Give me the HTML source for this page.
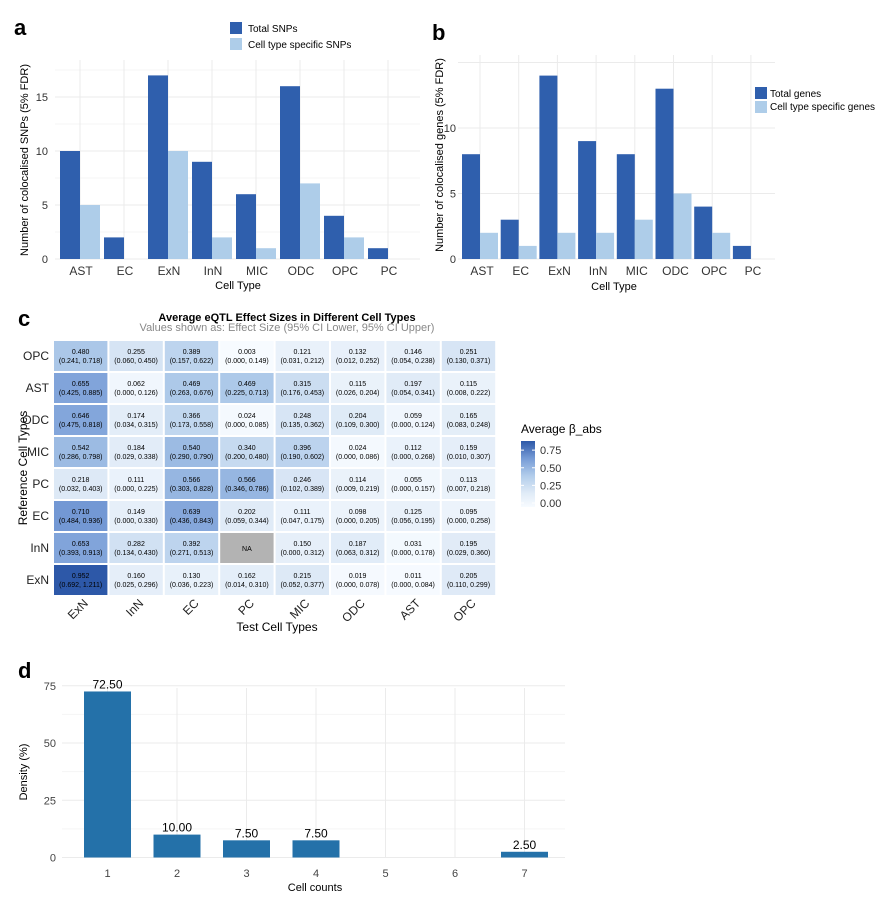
<!DOCTYPE html>
<html><head><meta charset="utf-8">
<style>
body{margin:0;background:#fff;font-family:"Liberation Sans",Arial,sans-serif;}
svg text{font-family:"Liberation Sans",Arial,sans-serif;}
</style></head>
<body>
<svg id="s" width="880" height="903" viewBox="0 0 880 903" xmlns="http://www.w3.org/2000/svg"></svg>
<script>
// Panel a data
const aCats=["AST","EC","ExN","InN","MIC","ODC","OPC","PC"];
const aTotal=[10,2,17,9,6,16,4,1];
const aSpecific=[5,0,10,2,1,7,2,0];
const aTicks=[0,5,10,15];
// Panel b data
const bCats=["AST","EC","ExN","InN","MIC","ODC","OPC","PC"];
const bTotal=[8,3,14,9,8,13,4,1];
const bSpecific=[2,1,2,2,3,5,2,0];
const bTicks=[0,5,10];
// Panel c data
const cRows=["OPC","AST","ODC","MIC","PC","EC","InN","ExN"];
const cCols=["ExN","InN","EC","PC","MIC","ODC","AST","OPC"];
const cVals=[
[0.480,0.255,0.389,0.003,0.121,0.132,0.146,0.251],
[0.655,0.062,0.469,0.469,0.315,0.115,0.197,0.115],
[0.646,0.174,0.366,0.024,0.248,0.204,0.059,0.165],
[0.542,0.184,0.540,0.340,0.396,0.024,0.112,0.159],
[0.218,0.111,0.566,0.566,0.246,0.114,0.055,0.113],
[0.710,0.149,0.639,0.202,0.111,0.098,0.125,0.095],
[0.653,0.282,0.392,null,0.150,0.187,0.031,0.195],
[0.952,0.160,0.130,0.162,0.215,0.019,0.011,0.205]];
const cCI=[
["(0.241, 0.718)","(0.060, 0.450)","(0.157, 0.622)","(0.000, 0.149)","(0.031, 0.212)","(0.012, 0.252)","(0.054, 0.238)","(0.130, 0.371)"],
["(0.425, 0.885)","(0.000, 0.126)","(0.263, 0.676)","(0.225, 0.713)","(0.176, 0.453)","(0.026, 0.204)","(0.054, 0.341)","(0.008, 0.222)"],
["(0.475, 0.818)","(0.034, 0.315)","(0.173, 0.558)","(0.000, 0.085)","(0.135, 0.362)","(0.109, 0.300)","(0.000, 0.124)","(0.083, 0.248)"],
["(0.286, 0.798)","(0.029, 0.338)","(0.290, 0.790)","(0.200, 0.480)","(0.190, 0.602)","(0.000, 0.086)","(0.000, 0.268)","(0.010, 0.307)"],
["(0.032, 0.403)","(0.000, 0.225)","(0.303, 0.828)","(0.346, 0.786)","(0.102, 0.389)","(0.009, 0.219)","(0.000, 0.157)","(0.007, 0.218)"],
["(0.484, 0.936)","(0.000, 0.330)","(0.436, 0.843)","(0.059, 0.344)","(0.047, 0.175)","(0.000, 0.205)","(0.056, 0.195)","(0.000, 0.258)"],
["(0.393, 0.913)","(0.134, 0.430)","(0.271, 0.513)","","(0.000, 0.312)","(0.063, 0.312)","(0.000, 0.178)","(0.029, 0.360)"],
["(0.692, 1.211)","(0.025, 0.296)","(0.036, 0.223)","(0.014, 0.310)","(0.052, 0.377)","(0.000, 0.078)","(0.000, 0.084)","(0.110, 0.299)"]];
const cLegendTicks=[0,0.25,0.5,0.75];
// Panel d data
const dCats=["1","2","3","4","5","6","7"];
const dVals=[72.5,10,7.5,7.5,0,0,2.5];
const dTicks=[0,25,50,75];

const S=document.getElementById('s');
const NS="http://www.w3.org/2000/svg";
function mk(tag,attrs,txt){const e=document.createElementNS(NS,tag);for(const k in attrs)e.setAttribute(k,attrs[k]);if(txt!==undefined)e.textContent=txt;S.appendChild(e);return e;}

const DARK="#2f5fad",LIGHT="#aecde9";
let e;
// ---------- Panel a ----------
e=mk('text',{x:14,y:35,'font-size':22,'font-weight':'bold'},'a');


const aY=v=>259-v*10.8, aX=i=>60+i*44;
for(const t of aTicks){e=mk('line',{x1:55,x2:420,y1:aY(t),y2:aY(t),stroke:'#ebebeb'});


e=mk('text',{x:48,y:aY(t)+4,'font-size':11,'text-anchor':'end',fill:'#333'},t);

}
for(let t=2.5;t<19;t+=5){mk('line',{x1:55,x2:420,y1:aY(t),y2:aY(t),stroke:'#f4f4f4'});}
aCats.forEach((c,i)=>{
 mk('line',{x1:aX(i)+20,x2:aX(i)+20,y1:60,y2:259,stroke:'#ebebeb'});
 e=mk('rect',{x:aX(i),y:aY(aTotal[i]),width:20,height:aTotal[i]*10.8,fill:DARK});
 
 
 e=mk('rect',{x:aX(i)+20,y:aY(aSpecific[i]),width:20,height:aSpecific[i]*10.8,fill:LIGHT});
 
 
 e=mk('text',{x:aX(i)+21,y:275,'font-size':12,'text-anchor':'middle',fill:'#333'},c);
 
 
});
e=mk('text',{x:238,y:289,'font-size':11,'text-anchor':'middle'},'Cell Type');


e=mk('text',{x:0,y:0,'font-size':11,'text-anchor':'middle',transform:'translate(28,160) rotate(-90)'},'Number of colocalised SNPs (5% FDR)');


e=mk('rect',{x:230,y:22,width:12,height:12,fill:DARK});


e=mk('text',{x:248,y:32,'font-size':10},'Total SNPs');


e=mk('rect',{x:230,y:38,width:12,height:12,fill:LIGHT});


e=mk('text',{x:248,y:48,'font-size':10},'Cell type specific SNPs');



// ---------- Panel b ----------
e=mk('text',{x:432,y:40,'font-size':22,'font-weight':'bold'},'b');


const bY=v=>259-v*13.1, bX=i=>462+i*38.7;
for(const t of [0,5,10,15]){mk('line',{x1:458,x2:775,y1:bY(t),y2:bY(t),stroke:'#ebebeb'});}
for(const t of bTicks){e=mk('text',{x:456,y:bY(t)+4,'font-size':11,'text-anchor':'end',fill:'#333'},t);

}
bCats.forEach((c,i)=>{
 mk('line',{x1:bX(i)+18,x2:bX(i)+18,y1:55,y2:259,stroke:'#ebebeb'});
 e=mk('rect',{x:bX(i),y:bY(bTotal[i]),width:18,height:bTotal[i]*13.1,fill:DARK});
 
 
 e=mk('rect',{x:bX(i)+18,y:bY(bSpecific[i]),width:18,height:bSpecific[i]*13.1,fill:LIGHT});
 
 
 e=mk('text',{x:bX(i)+20,y:275,'font-size':12,'text-anchor':'middle',fill:'#333'},c);
 
 
});
e=mk('text',{x:614,y:290,'font-size':11,'text-anchor':'middle'},'Cell Type');


e=mk('text',{x:0,y:0,'font-size':11,'text-anchor':'middle',transform:'translate(443,155) rotate(-90)'},'Number of colocalised genes (5% FDR)');


e=mk('rect',{x:755,y:87,width:12,height:12,fill:DARK});


e=mk('text',{x:770,y:97,'font-size':10},'Total genes');


e=mk('rect',{x:755,y:101,width:12,height:12,fill:LIGHT});


e=mk('text',{x:770,y:110,'font-size':10},'Cell type specific genes');



// ---------- Panel c ----------
e=mk('text',{x:18,y:326,'font-size':22,'font-weight':'bold'},'c');


e=mk('text',{x:287,y:321,'font-size':11,'font-weight':'bold','text-anchor':'middle'},'Average eQTL Effect Sizes in Different Cell Types');


e=mk('text',{x:287,y:331,'font-size':11,'text-anchor':'middle',fill:'#888'},'Values shown as: Effect Size (95% CI Lower, 95% CI Upper)');


const STOPS=[[0,[247,251,255]],[0.2,[224,235,247]],[0.45,[178,205,235]],[0.7,[118,155,214]],[0.95,[45,88,168]]];
function col(v){v=Math.max(0,Math.min(v,0.95));
 for(let k=1;k<STOPS.length;k++){if(v<=STOPS[k][0]){const [p0,c0]=STOPS[k-1],[p1,c1]=STOPS[k];const t=(v-p0)/(p1-p0);
 return 'rgb('+c0.map((x,j)=>Math.round(x+(c1[j]-x)*t)).join(',')+')';}}
 return 'rgb(45,88,168)';}
const cX0=53,cW=55.4,cY0=340,cH=32;
cRows.forEach((r,ri)=>{
 e=mk('text',{x:cX0-4,y:cY0+ri*cH+20,'font-size':12,'text-anchor':'end',fill:'#222'},r);
 
 
 cCols.forEach((c,ci)=>{
  const v=cVals[ri][ci],x=cX0+ci*cW,y=cY0+ri*cH;
  e=mk('rect',{x:x+1,y:y+1,width:cW-2,height:cH-2,fill:v===null?'#b3b3b3':col(v)});
  
  
  if(v===null){e=mk('text',{x:x+cW/2,y:y+19,'font-size':7,'text-anchor':'middle'},'NA');}
  else{e=mk('text',{x:x+cW/2,y:y+14,'font-size':7,'text-anchor':'middle'},v.toFixed(3));
  
  
  e=mk('text',{x:x+cW/2,y:y+23,'font-size':7,'text-anchor':'middle'},cCI[ri][ci]);}
  
  
 });
});
cCols.forEach((c,ci)=>{
 const x=cX0+ci*cW+cW/2+8;
 e=mk('text',{x:0,y:0,'font-size':12,'text-anchor':'end',fill:'#222',transform:'translate('+x+',604) rotate(-45)'},c);
 
 
});
e=mk('text',{x:277,y:631,'font-size':12,'text-anchor':'middle'},'Test Cell Types');


e=mk('text',{x:0,y:0,'font-size':12,'text-anchor':'middle',transform:'translate(27,468) rotate(-90)'},'Reference Cell Types');


e=mk('text',{x:521,y:433,'font-size':12},'Average β_abs');


const defs=mk('defs',{});
const g=document.createElementNS(NS,'linearGradient');g.setAttribute('id','cg');g.setAttribute('x1',0);g.setAttribute('y1',1);g.setAttribute('x2',0);g.setAttribute('y2',0);
STOPS.forEach(([o,c])=>{const st=document.createElementNS(NS,'stop');st.setAttribute('offset',o/0.95);st.setAttribute('stop-color','rgb('+c.join(',')+')');g.appendChild(st);});
defs.appendChild(g);
e=mk('rect',{x:521,y:441,width:14,height:66,fill:'url(#cg)'});


const lY=v=>503-v*70.5;
cLegendTicks.forEach(t=>{
 e=mk('text',{x:540,y:lY(t)+4,'font-size':11,fill:'#333'},t.toFixed(2));
 
 
 mk('line',{x1:521,x2:524,y1:lY(t),y2:lY(t),stroke:'#fff'});
 mk('line',{x1:532,x2:535,y1:lY(t),y2:lY(t),stroke:'#fff'});
});

// ---------- Panel d ----------
e=mk('text',{x:18,y:678,'font-size':22,'font-weight':'bold'},'d');


const dY=v=>857.5-v*2.29, dX=i=>107.5+i*69.5;
for(let t=0;t<=85;t+=12.5){mk('line',{x1:62,x2:565,y1:dY(t),y2:dY(t),stroke:t%25===0?'#ebebeb':'#f5f5f5'});}
dTicks.forEach(t=>{e=mk('text',{x:56,y:dY(t)+4,'font-size':11,'text-anchor':'end',fill:'#444'},t);
 
 });
dCats.forEach((c,i)=>{
 mk('line',{x1:dX(i),x2:dX(i),y1:688,y2:858,stroke:'#ebebeb'});
 e=mk('rect',{x:dX(i)-23.5,y:dY(dVals[i]),width:47,height:dVals[i]*2.29,fill:'#2471a9'});
 
 
 if(dVals[i]>0){e=mk('text',{x:dX(i),y:dY(dVals[i])-3,'font-size':12,'text-anchor':'middle'},dVals[i].toFixed(2));
 
 }
 e=mk('text',{x:dX(i),y:877,'font-size':11,'text-anchor':'middle',fill:'#444'},c);
 
 
});
e=mk('text',{x:315,y:891,'font-size':11,'text-anchor':'middle'},'Cell counts');


e=mk('text',{x:0,y:0,'font-size':11,'text-anchor':'middle',transform:'translate(27,772) rotate(-90)'},'Density (%)');


</script>
</body></html>
